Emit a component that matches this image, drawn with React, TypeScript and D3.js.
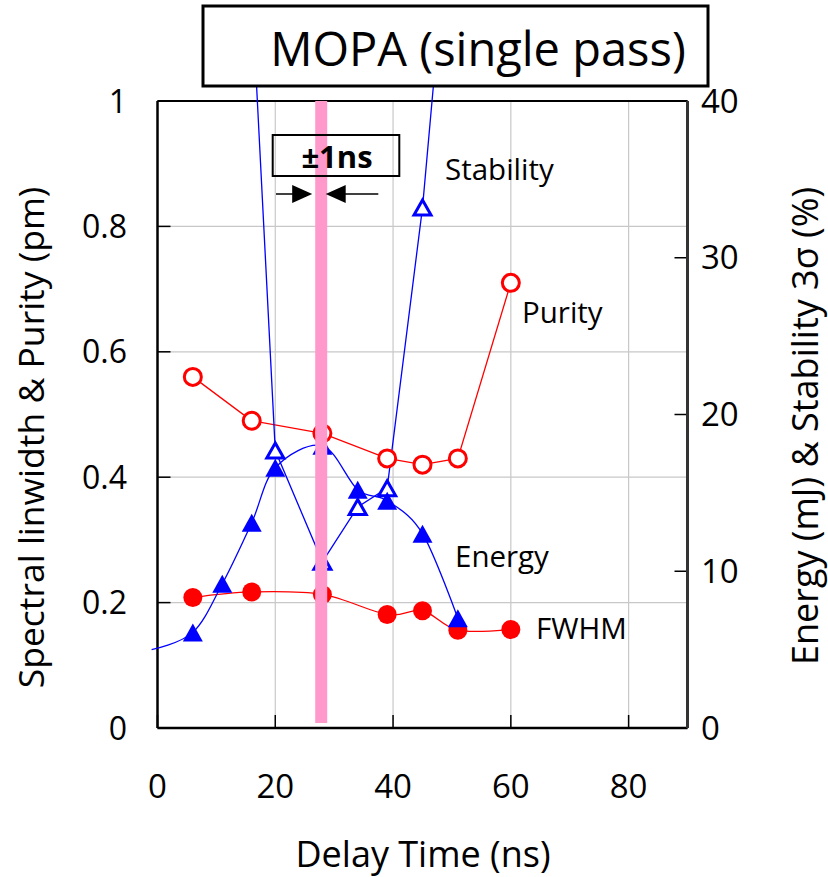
import React from "react";
import * as d3 from "d3";

const purityX = [6, 16, 28, 39, 45, 51, 60];
const purityY = [0.56, 0.49, 0.47, 0.43, 0.42, 0.43, 0.71];
const fwhmX = [6, 16, 28, 39, 45, 51, 60];
const fwhmY = [0.208, 0.217, 0.213, 0.181, 0.187, 0.156, 0.157];
const energyX = [-1, 6, 11, 16, 20, 28, 34, 39, 45, 51];
const energyY = [5.0, 6.1, 9.2, 13.1, 16.6, 18.0, 15.2, 14.5, 12.4, 7.0];
const stabilityX = [16, 20, 28, 34, 39, 45, 51];
const stabilityY = [47.0, 17.7, 10.6, 14.1, 15.3, 33.2, 58.4];
const xTicks = [0, 20, 40, 60, 80];
const leftTicks = [0, 0.2, 0.4, 0.6, 0.8, 1];
const leftTickLabels = ["0", "0.2", "0.4", "0.6", "0.8", "1"];
const rightTicks = [0, 10, 20, 30, 40];
const delayMark = 27.8;

const FONT = "'Open Sans', 'DejaVu Sans', sans-serif";

export default function App() {
  const W = 828, H = 877;
  const L = 157.5, R = 687.5, T = 101, B = 728;
  const x = d3.scaleLinear().domain([0, 90]).range([L, R]);
  const yL = d3.scaleLinear().domain([0, 1]).range([B, T]);
  const yR = d3.scaleLinear().domain([0, 40]).range([B, T]);

  const zip = (xs: number[], ys: number[]) => xs.map((v, i) => [v, ys[i]] as [number, number]);
  const straightL = d3.line<[number, number]>().x(d => x(d[0])).y(d => yL(d[1]));
  const smoothL = d3.line<[number, number]>().x(d => x(d[0])).y(d => yL(d[1])).curve(d3.curveCardinal.tension(0));
  const straightR = d3.line<[number, number]>().x(d => x(d[0])).y(d => yR(d[1]));
  const smoothR = d3.line<[number, number]>().x(d => x(d[0])).y(d => yR(d[1])).curve(d3.curveCardinal.tension(0));

  const purity = zip(purityX, purityY);
  const fwhm = zip(fwhmX, fwhmY);
  const energy = zip(energyX, energyY);
  const stability = zip(stabilityX, stabilityY);

  const tri = (cx: number, cy: number, w = 20, h = 18) =>
    `M${cx},${cy - h / 2}L${cx + w / 2},${cy + h / 2}L${cx - w / 2},${cy + h / 2}Z`;

  const px = x(delayMark);
  const arrowY = 194;

  return (
    <svg width={W} height={H} style={{ position: "absolute", left: 0, top: 0, background: "#fff" }} fontFamily={FONT}>
      <defs>
        <clipPath id="dataClip">
          <rect x={0} y={86} width={W} height={H - 86} />
        </clipPath>
      </defs>
      {/* grid */}
      {xTicks.filter(t => t > 0).map(t => (
        <line key={"gx" + t} x1={x(t)} x2={x(t)} y1={T} y2={B} stroke="#c8c8c8" strokeWidth={1.2} />
      ))}
      {leftTicks.filter(t => t > 0 && t < 1).map(t => (
        <line key={"gy" + t} x1={L} x2={R} y1={yL(t)} y2={yL(t)} stroke="#c8c8c8" strokeWidth={1.2} />
      ))}
      {/* ticks */}
      {leftTicks.map(t => (
        <line key={"lt" + t} x1={L} x2={L + 13} y1={yL(t)} y2={yL(t)} stroke="#000" strokeWidth={1.5} />
      ))}
      {rightTicks.map(t => (
        <line key={"rt" + t} x1={R - 13} x2={R} y1={yR(t)} y2={yR(t)} stroke="#000" strokeWidth={1.5} />
      ))}
      {xTicks.map(t => (
        <line key={"xt" + t} x1={x(t)} x2={x(t)} y1={B - 13} y2={B} stroke="#000" strokeWidth={1.5} />
      ))}
      {/* frame */}
      <line x1={L} x2={R} y1={T} y2={T} stroke="#000" strokeWidth={2} />
      <line x1={L} x2={R} y1={B} y2={B} stroke="#000" strokeWidth={2.5} />
      <line x1={L} x2={L} y1={T} y2={B} stroke="#000" strokeWidth={2.5} />
      <line x1={R} x2={R} y1={T} y2={B} stroke="#333" strokeWidth={3} />

      {/* series lines */}
      <g clipPath="url(#dataClip)">
        <path d={straightL(purity) || ""} fill="none" stroke="#ff0000" strokeWidth={1.3} />
        <path d={smoothL(fwhm) || ""} fill="none" stroke="#ff0000" strokeWidth={1.3} />
        <path d={smoothR(energy) || ""} fill="none" stroke="#0000ff" strokeWidth={1.3} />
        <path d={straightR(stability) || ""} fill="none" stroke="#0000ff" strokeWidth={1.3} />
      </g>

      {/* markers */}
      {purity.map((d, i) => (
        <circle key={"pu" + i} cx={x(d[0])} cy={yL(d[1])} r={8.5} fill="#fff" stroke="#ff0000" strokeWidth={3} />
      ))}
      {fwhm.map((d, i) => (
        <circle key={"fw" + i} cx={x(d[0])} cy={yL(d[1])} r={9.5} fill="#ff0000" />
      ))}
      {stability.filter(d => yR(d[1]) > T).map((d, i) => (
        <path key={"st" + i} d={tri(x(d[0]), yR(d[1]), 17, 15)} fill="#fff" stroke="#0000ff" strokeWidth={3} />
      ))}
      {energy.filter(d => d[0] >= 0).map((d, i) => (
        <path key={"en" + i} d={tri(x(d[0]), yR(d[1]))} fill="#0000ff" />
      ))}

      {/* pink delay bar */}
      <rect x={px - 6} y={T} width={12} height={723 - T} fill="#ff99cc" />

      {/* ±1ns annotation */}
      <rect x={272.7} y={135} width={126.6} height={41} fill="none" stroke="#000" strokeWidth={2} />
      <text x={337} y={168} textAnchor="middle" fontSize={31} fontWeight="bold" fill="#000">±1ns</text>
      <line x1={276} x2={px - 12} y1={arrowY} y2={arrowY} stroke="#000" strokeWidth={1.5} />
      <path d={`M${px - 9},${arrowY}L${px - 29},${arrowY - 9}L${px - 29},${arrowY + 9}Z`} fill="#000" />
      <line x1={px + 12} x2={378.3} y1={arrowY} y2={arrowY} stroke="#000" strokeWidth={1.5} />
      <path d={`M${px + 4.5},${arrowY}L${px + 24.5},${arrowY - 9}L${px + 24.5},${arrowY + 9}Z`} fill="#000" />

      {/* series labels */}
      <text x={445} y={180} fontSize={29.5} fill="#000">Stability</text>
      <text x={522} y={323} fontSize={29.5} fill="#000">Purity</text>
      <text x={455} y={567} fontSize={29.5} fill="#000">Energy</text>
      <text x={536} y={639} fontSize={29.5} fill="#000">FWHM</text>

      {/* tick labels */}
      {leftTicks.map((t, i) => (
        <text key={"ll" + t} x={127} y={yL(t) + 11.5} textAnchor="end" fontSize={32} fill="#000">{leftTickLabels[i]}</text>
      ))}
      {rightTicks.map(t => (
        <text key={"rl" + t} x={701} y={yR(t) + 11.5} textAnchor="start" fontSize={33} fill="#000">{String(t)}</text>
      ))}
      {xTicks.map(t => (
        <text key={"xl" + t} x={x(t)} y={798} textAnchor="middle" fontSize={33} fill="#000">{String(t)}</text>
      ))}

      {/* axis titles */}
      <text transform="translate(44,437.5) rotate(-90)" textAnchor="middle" fontSize={35.5} fill="#000">
        Spectral linwidth &amp; Purity (pm)
      </text>
      <text transform="translate(818,426) rotate(-90)" textAnchor="middle" fontSize={36} fill="#000">
        Energy (mJ) &amp; Stability 3σ (%)
      </text>
      <text x={423} y={867} textAnchor="middle" fontSize={36} fill="#000">Delay Time (ns)</text>

      {/* title box */}
      <rect x={203} y={6} width={505} height={80} fill="#fff" stroke="#000" strokeWidth={3} />
      <text x={478} y={66} textAnchor="middle" fontSize={47} fill="#000">MOPA (single pass)</text>
    </svg>
  );
}
